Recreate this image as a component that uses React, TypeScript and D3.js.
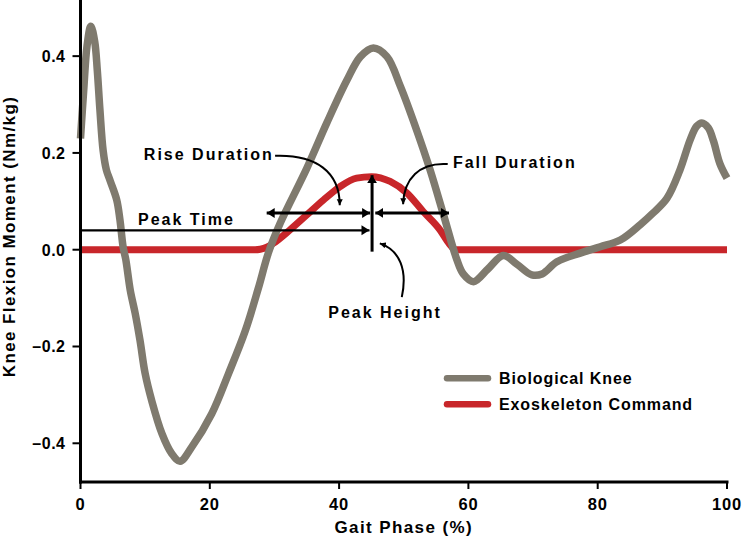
import React from "react";
import * as d3 from "d3";

const xTicks = [0, 20, 40, 60, 80, 100];
const yTicks = [-0.4, -0.2, 0.0, 0.2, 0.4];

// Biological knee moment (gait phase %, Nm/kg)
const bioPhase = [0, 0.5, 1.0, 1.6, 2.2, 2.6, 3.0, 3.5, 4.0, 4.6, 5.6, 6.1, 6.6, 7.0, 7.7, 8.45, 9.2, 10.0, 11.0, 12.6, 14.1, 15.4, 17.2, 20.3, 22.9, 25.5, 27.5, 29.1, 30.9, 35.0, 38.1, 41.2, 43.3, 45.3, 47.4, 49.5, 52.0, 54.1, 56.2, 58.2, 59.2, 60.8, 63.0, 65.4, 67.5, 69.8, 71.4, 73.7, 77.3, 80.4, 83.5, 86.6, 88.5, 90.7, 92.7, 94.3, 95.3, 96.1, 97.1, 97.9, 98.9, 100];
const bioMoment = [0.23, 0.33, 0.42, 0.462, 0.43, 0.37, 0.29, 0.205, 0.165, 0.142, 0.103, 0.062, 0.005, -0.02, -0.084, -0.131, -0.187, -0.256, -0.311, -0.38, -0.421, -0.437, -0.408, -0.339, -0.256, -0.167, -0.08, -0.005, 0.055, 0.168, 0.262, 0.35, 0.399, 0.417, 0.399, 0.337, 0.247, 0.164, 0.07, -0.02, -0.05, -0.066, -0.04, -0.012, -0.03, -0.052, -0.05, -0.025, -0.007, 0.006, 0.02, 0.052, 0.075, 0.106, 0.164, 0.227, 0.255, 0.262, 0.252, 0.225, 0.178, 0.148];

// Exoskeleton command
const exoPhase = [0, 27, 27.8, 28.8, 29.8, 32.4, 35, 37.6, 40.1, 42.7, 45, 47.9, 50.5, 53, 55.6, 57.0, 58, 100];
const exoMoment = [0, 0, 0.001, 0.005, 0.013, 0.041, 0.072, 0.103, 0.13, 0.148, 0.151, 0.141, 0.117, 0.079, 0.041, 0.013, 0, 0];

const seriesNames = ["Biological Knee", "Exoskeleton Command"];
const seriesColors = ["#7f7a6e", "#c8262a"];

const FONT = "'Liberation Sans', Arial, Helvetica, sans-serif";

export default function App() {
  const W = 742, H = 538;
  const x = d3.scaleLinear().domain([0, 100]).range([80.5, 727]);
  const y = d3.scaleLinear().domain([-0.48, 0.516]).range([482, 0]);

  const bio = bioPhase.map((p, i) => [p, bioMoment[i]] as [number, number]);
  const exo = exoPhase.map((p, i) => [p, exoMoment[i]] as [number, number]);

  const bioLine = d3.line<[number, number]>().x(d => x(d[0])).y(d => y(d[1])).curve(d3.curveCatmullRom.alpha(0.5));
  const exoLine = d3.line<[number, number]>().x(d => x(d[0])).y(d => y(d[1])).curve(d3.curveMonotoneX);

  const bez = (pts: [number, number][]) => {
    const p = pts.map(d => [x(d[0]), y(d[1])]);
    return `M${p[0][0]},${p[0][1]} C${p[1][0]},${p[1][1]} ${p[2][0]},${p[2][1]} ${p[3][0]},${p[3][1]}`;
  };

  const peakX = 45.1;
  const peakV = 0.154;

  return (
    <div style={{ position: "absolute", left: 0, top: 0 }}>
      <svg width={W} height={H} style={{ display: "block", fontFamily: FONT, fontWeight: "bold" }}>
        <defs>
          <marker id="big" markerUnits="userSpaceOnUse" markerWidth={10} markerHeight={11} refX={8} refY={5} orient="auto-start-reverse" viewBox="0 0 10 10">
            <path d="M0,0 L8,5 L0,10 z" fill="#000" />
          </marker>
          <marker id="small" markerUnits="userSpaceOnUse" markerWidth={7} markerHeight={7} refX={6} refY={3} orient="auto" viewBox="0 0 7 6">
            <path d="M0,0 L6,3 L0,6 z" fill="#000" />
          </marker>
        </defs>

        {/* data lines */}
        <path d={exoLine(exo) || ""} fill="none" stroke={seriesColors[1]} strokeWidth={7} />
        <path d={bioLine(bio) || ""} fill="none" stroke={seriesColors[0]} strokeWidth={7.5} strokeLinejoin="round" />

        {/* annotations */}
        <line x1={x(0)} x2={x(44.7)} y1={y(0.04)} y2={y(0.04)} stroke="#000" strokeWidth={2.2} markerEnd="url(#big)" />
        <line x1={x(28.8)} x2={x(44.8)} y1={y(0.076)} y2={y(0.076)} stroke="#000" strokeWidth={3} markerStart="url(#big)" markerEnd="url(#big)" />
        <line x1={x(45.6)} x2={x(57.0)} y1={y(0.076)} y2={y(0.076)} stroke="#000" strokeWidth={3} markerStart="url(#big)" markerEnd="url(#big)" />
        <line x1={x(peakX)} x2={x(peakX)} y1={y(-0.004)} y2={y(peakV)} stroke="#000" strokeWidth={3} markerEnd="url(#big)" />

        <path d={bez([[30.1, 0.194], [36.5, 0.197], [40.1, 0.16], [40.1, 0.092]])} fill="none" stroke="#000" strokeWidth={2} markerEnd="url(#small)" />
        <path d={bez([[56.8, 0.177], [52.4, 0.181], [50.0, 0.146], [49.9, 0.094]])} fill="none" stroke="#000" strokeWidth={2} markerEnd="url(#small)" />
        <path d={bez([[49.7, -0.098], [50.6, -0.042], [49.4, -0.001], [46.3, 0.013]])} fill="none" stroke="#000" strokeWidth={2} markerEnd="url(#small)" />

        <g fontSize={16} letterSpacing={2} fill="#000">
          <text x={x(9.8)} y={y(0.185)}>Rise Duration</text>
          <text x={x(57.6)} y={y(0.169)}>Fall Duration</text>
          <text x={x(8.9)} y={y(0.051)}>Peak Time</text>
          <text x={x(47.1)} y={y(-0.141)} textAnchor="middle">Peak Height</text>
        </g>

        {/* axes */}
        <line x1={x(0)} x2={x(0)} y1={0} y2={483.5} stroke="#000" strokeWidth={3} />
        <line x1={x(0) - 1.5} x2={x(100) + 1.5} y1={482} y2={482} stroke="#000" strokeWidth={3} />
        {yTicks.map(t => (
          <g key={"y" + t}>
            <line x1={x(0) - 8} x2={x(0)} y1={y(t)} y2={y(t)} stroke="#000" strokeWidth={2} />
            <text x={x(0) - 15} y={y(t) + 6} textAnchor="end" fontSize={16} letterSpacing={0.5}>
              {t === 0 ? "0.0" : (t < 0 ? "\u2013" : "") + d3.format(".1f")(Math.abs(t))}
            </text>
          </g>
        ))}
        {xTicks.map(t => (
          <g key={"x" + t}>
            <line x1={x(t)} x2={x(t)} y1={482} y2={489} stroke="#000" strokeWidth={2} />
            <text x={x(t)} y={510} textAnchor="middle" fontSize={16.5} letterSpacing={0.8}>{t}</text>
          </g>
        ))}
        <text x={(x(0) + x(100)) / 2} y={533} textAnchor="middle" fontSize={17} letterSpacing={1.4}>Gait Phase (%)</text>
        <text transform={`translate(15,${236.5}) rotate(-90)`} textAnchor="middle" fontSize={17} letterSpacing={1.4}>Knee Flexion Moment (Nm/kg)</text>

        {/* legend */}
        {seriesNames.map((n, i) => (
          <g key={n} transform={`translate(0,${378.3 + i * 26})`}>
            <line x1={447} x2={488} y1={0} y2={0} stroke={seriesColors[i]} strokeWidth={6.5} strokeLinecap="round" />
            <text x={499} y={5.5} fontSize={16} letterSpacing={0.9}>{n}</text>
          </g>
        ))}
      </svg>
    </div>
  );
}
